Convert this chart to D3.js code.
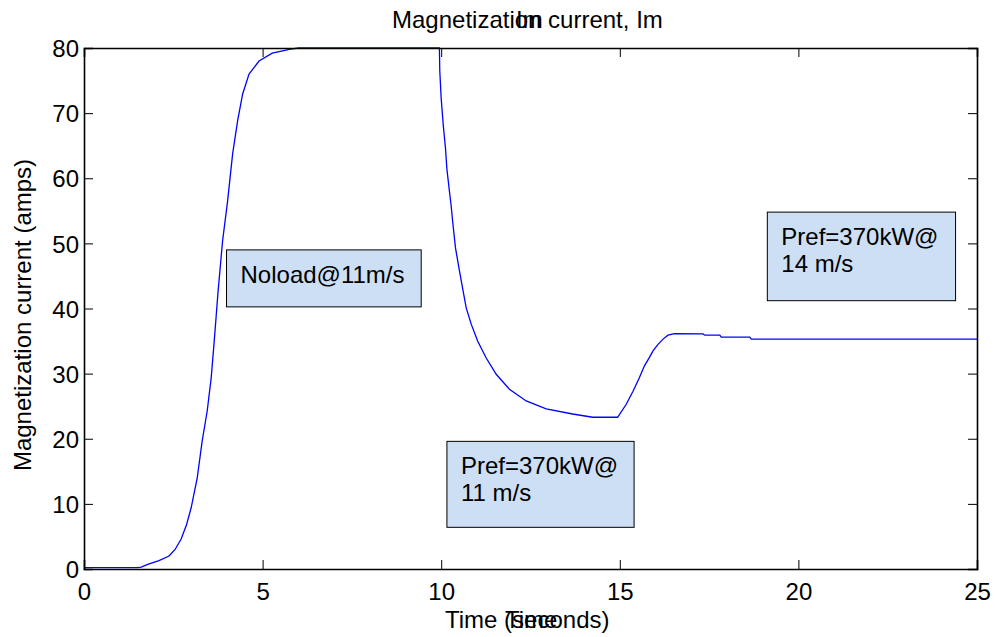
<!DOCTYPE html>
<html>
<head>
<meta charset="utf-8">
<script src="https://cdn.jsdelivr.net/npm/d3@7"></script>
<style>
  html, body { margin: 0; padding: 0; background: #fff; }
  svg { display: block; font-family: "Liberation Sans", Arial, Helvetica, sans-serif; }
</style>
</head>
<body>
<svg id="chart" width="995" height="637"></svg>
<script>
// Magnetization current Im over time (s)
const timeS = [0, 1.5, 1.6, 1.82, 2.1, 2.38, 2.55, 2.72, 2.87, 3.0, 3.17, 3.31, 3.45, 3.56, 3.64, 3.70, 3.75, 3.88, 4.02, 4.16, 4.30, 4.44, 4.62, 4.90, 5.27, 5.75, 6.0,
  9.95, 9.96, 10.0, 10.06, 10.12, 10.16, 10.23, 10.28, 10.32, 10.40, 10.51, 10.60, 10.70, 10.84, 11.02, 11.26, 11.54, 11.91, 12.38, 12.94, 13.68, 14.24, 14.94,
  15.18, 15.37, 15.55, 15.69, 15.83, 15.93, 16.07, 16.21, 16.35, 16.53, 17.33, 17.38, 17.80, 17.84, 18.64, 18.68, 25];
const currentA = [0.2, 0.2, 0.3, 0.8, 1.3, 2.0, 3.0, 4.6, 6.8, 9.4, 14.0, 19.7, 24.3, 29.3, 34.6, 38.8, 42.4, 50.4, 56.5, 63.7, 68.8, 72.9, 76.0, 78.0, 79.2, 79.8, 80,
  80, 76.5, 72.2, 68.0, 64.6, 61.4, 58.0, 55.7, 53.4, 49.3, 45.8, 43.1, 40.1, 37.6, 35.0, 32.4, 29.9, 27.6, 25.8, 24.6, 23.8, 23.3, 23.3,
  25.3, 27.3, 29.4, 31.2, 32.5, 33.5, 34.5, 35.3, 35.9, 36.15, 36.1, 35.9, 35.9, 35.6, 35.6, 35.3, 35.3];

const xTicks = [0, 5, 10, 15, 20, 25];
const yTicks = [0, 10, 20, 30, 40, 50, 60, 70, 80];

// Text boxes: anchor point (time, current) of the top-left corner, size and lines
const noteLines = [["Noload@11m/s"], ["Pref=370kW@", "11 m/s"], ["Pref=370kW@", "14 m/s"]];
const noteAt = [[3.99, 49.0], [10.16, 19.6], [19.13, 54.8]];
const noteSize = [[5.45, 8.75], [5.24, 13.2], [5.27, 13.6]];

const svg = d3.select("#chart");
const m = { left: 84, right: 977, top: 48, bottom: 569 };

const x = d3.scaleLinear().domain([0, 25]).range([m.left, m.right]);
const y = d3.scaleLinear().domain([0, 80]).range([m.bottom, m.top]);

svg.append("defs").append("clipPath").attr("id", "plotclip")
  .append("rect").attr("x", m.left).attr("y", m.top - 1)
  .attr("width", m.right - m.left).attr("height", m.bottom - m.top + 2);

// data curve
const pts = timeS.map((t, i) => [t, currentA[i]]);
svg.append("path")
  .datum(pts)
  .attr("clip-path", "url(#plotclip)")
  .attr("fill", "none")
  .attr("stroke", "#0000ff")
  .attr("stroke-width", 1.3)
  .attr("d", d3.line().x(d => x(d[0])).y(d => y(d[1])));

// axes with inward ticks on all four sides
const tickLen = 9;
const fontSize = 24;
const axB = svg.append("g").attr("transform", `translate(0,${m.bottom})`)
  .call(d3.axisBottom(x).tickValues(xTicks).tickSize(-tickLen).tickPadding(14).tickFormat(d3.format("d")));
const axT = svg.append("g").attr("transform", `translate(0,${m.top})`)
  .call(d3.axisTop(x).tickValues(xTicks).tickSize(-tickLen).tickFormat(""));
const axL = svg.append("g").attr("transform", `translate(${m.left},0)`)
  .call(d3.axisLeft(y).tickValues(yTicks).tickSize(-tickLen).tickPadding(5).tickFormat(d3.format("d")));
const axR = svg.append("g").attr("transform", `translate(${m.right},0)`)
  .call(d3.axisRight(y).tickValues(yTicks).tickSize(-tickLen).tickFormat(""));

[axB, axT, axL, axR].forEach(g => {
  g.select(".domain").attr("stroke", "#000").attr("stroke-width", 1.6);
  g.selectAll(".tick line").attr("stroke", "#000").attr("stroke-width", 1);
  g.selectAll(".tick text").attr("fill", "#000").attr("font-size", fontSize)
    .attr("font-family", "'Liberation Sans', Arial, sans-serif");
});
axB.selectAll(".tick text").attr("dy", "0.71em");
axL.selectAll(".tick text").attr("dy", "0.36em");

// annotation boxes
noteLines.forEach((lines, i) => {
  const [t0, v0] = noteAt[i];
  const [w, h] = noteSize[i];
  const bx = x(t0), by = y(v0);
  const bw = x(t0 + w) - x(t0), bh = y(0) - y(h);
  const g = svg.append("g");
  g.append("rect").attr("x", bx).attr("y", by).attr("width", bw).attr("height", bh)
    .attr("fill", "#cddff5").attr("stroke", "#000").attr("stroke-width", 1);
  lines.forEach((s, k) => {
    g.append("text").attr("x", bx + 14).attr("y", by + 33 + k * 27)
      .attr("font-size", fontSize).attr("fill", "#000").text(s);
  });
});

// title, with a second "Im" label printed over it
svg.append("text").attr("x", 392).attr("y", 28).attr("font-size", fontSize)
  .attr("fill", "#000").text("Magnetization current, Im");
svg.append("text").attr("x", 516).attr("y", 28).attr("font-size", fontSize)
  .attr("fill", "#000").text("Im");

// x label, with a second "Time" label printed over it
svg.append("text").attr("x", 445).attr("y", 628).attr("font-size", fontSize)
  .attr("fill", "#000").text("Time (seconds)");
svg.append("text").attr("x", 505).attr("y", 628).attr("font-size", fontSize)
  .attr("fill", "#000").text("Time");

// y label
svg.append("text")
  .attr("transform", "translate(31,315) rotate(-90)")
  .attr("text-anchor", "middle").attr("font-size", fontSize)
  .attr("fill", "#000").text("Magnetization current (amps)");
</script>
</body>
</html>
